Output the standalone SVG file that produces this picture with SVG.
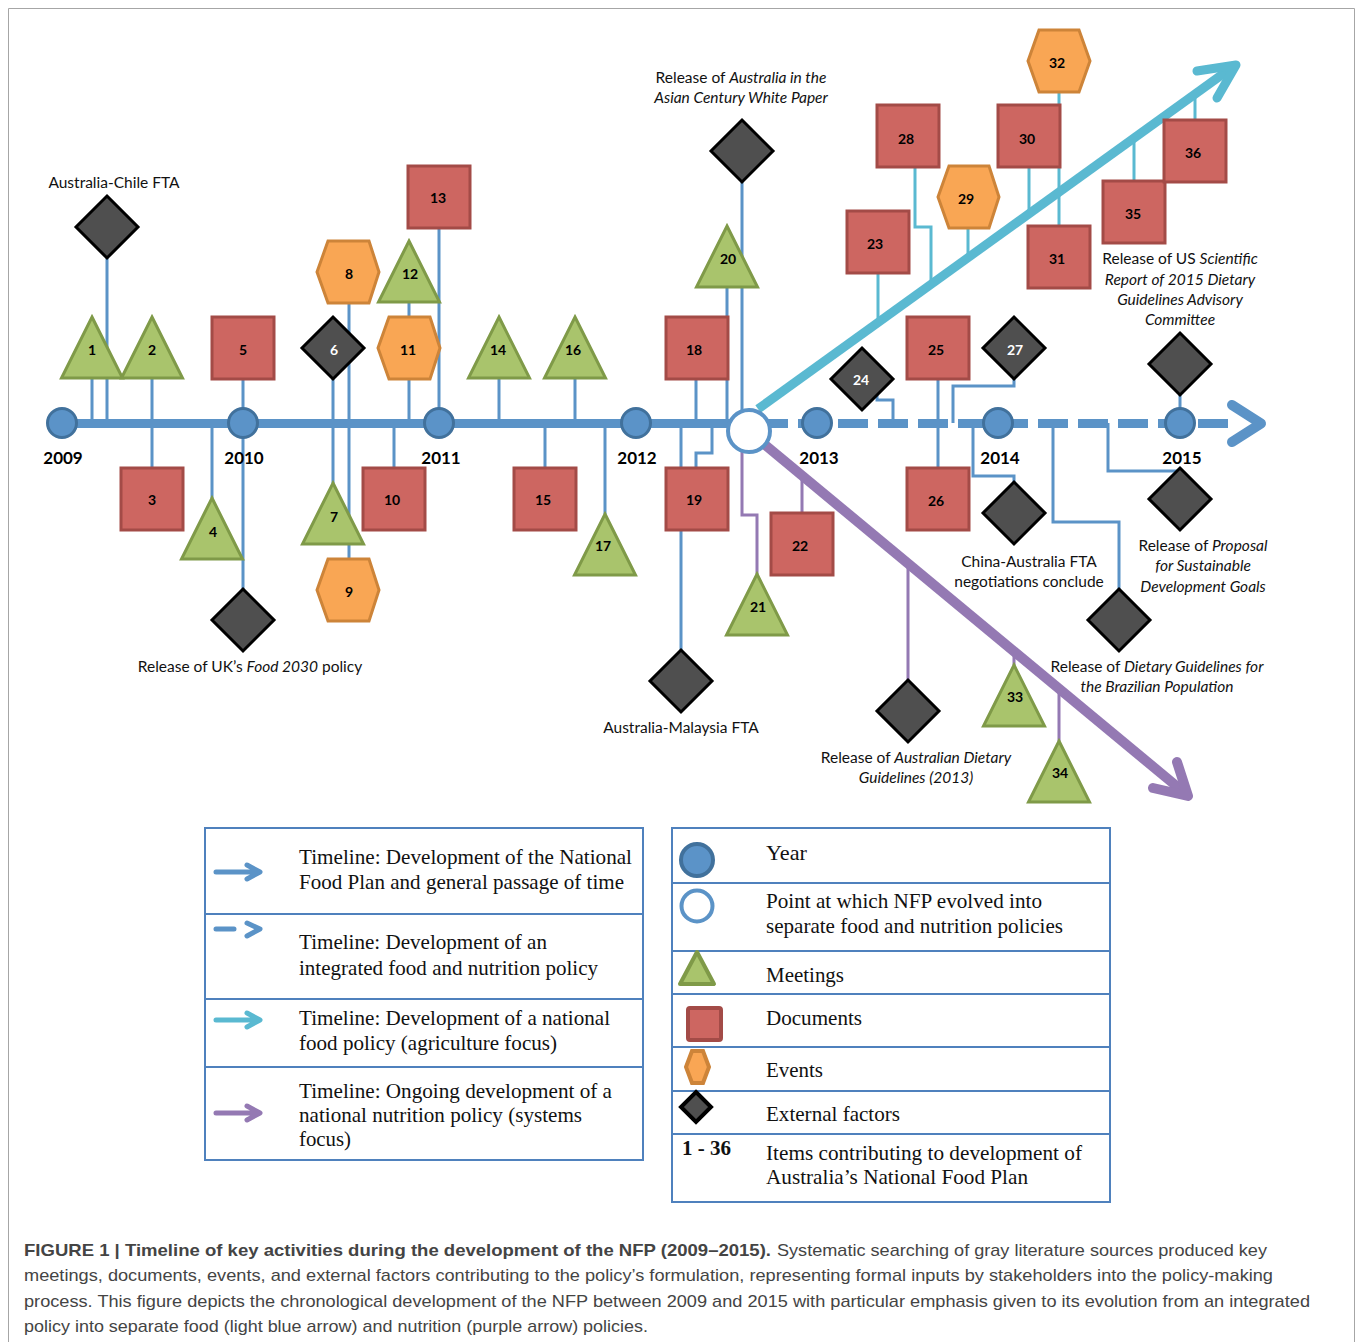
<svg xmlns="http://www.w3.org/2000/svg" width="1358" height="1342" viewBox="0 0 1358 1342">
<style>
.tri{fill:#a9c46c;stroke:#7f9a48;stroke-width:3;stroke-linejoin:miter}
.sq{fill:#cd6661;stroke:#a34b47;stroke-width:3}
.hex{fill:#f9a654;stroke:#cd8439;stroke-width:3}
.dia{fill:#4f4f4f;stroke:#000;stroke-width:3}
.yr{fill:#5b93c8;stroke:#41719c;stroke-width:3}
.num{font-family:Lato,"Open Sans",sans-serif;font-weight:bold;font-size:14px;text-anchor:middle;fill:#000}
.numw{fill:#fff}
.year{font-family:Lato,"Open Sans",sans-serif;font-weight:bold;font-size:17px;text-anchor:middle;fill:#000}
.ann{font-family:Lato,"Open Sans",sans-serif;font-size:15.5px;text-anchor:middle;fill:#111}
.it{font-style:italic}
.con{fill:none;stroke:#5b93c7;stroke-width:3}
.conl{fill:none;stroke:#5ab9d1;stroke-width:3}
.conp{fill:none;stroke:#9479b3;stroke-width:3}
.leg{font-family:"Liberation Serif","Times New Roman",serif;font-size:21px;fill:#111}
.legbox{fill:#fff;stroke:#4f81bd;stroke-width:2}
.cap{font-family:"Liberation Sans",Arial,sans-serif;font-size:17px;fill:#444}
</style>

<!-- frame -->
<path d="M8.5,1342 V8.5 H1354.5 V1342" fill="none" stroke="#a6a6a6" stroke-width="1"/>

<g id="connectors">
  <!-- blue connectors -->
  <path class="con" d="M92,378V423 M107,258V423 M152,378V468 M212,423V498 M243,379V589 M333,379V483 M349,303V558 M409,303V317 M409,379V423 M394,423V468 M439,228V423 M499,379V423 M545,423V468 M575,379V423 M605,423V514 M696,379V423 M681,423V650 M712,423V453H696V468 M727,287V423 M742,182V410"/>
  <path class="con" d="M877,394V400H893V423 M938,379V468 M1014,379V386H953V423 M973,423V476H1014V482 M1053,423V522H1119V589 M1108,423V471H1180V468 M1180,395V408"/>
  <!-- light blue connectors -->
  <path class="conl" d="M878,273V320 M915,167V227H931V284 M968,228V257 M1029,167V213 M1059,92V226 M1134,181V138 M1195,120V95"/>
  <!-- purple connectors -->
  <path class="conp" d="M742,451V515H757V574 M802,476V513 M908,564V680 M1014,652V665 M1059,689V741"/>

  <!-- main timeline (solid) -->
  <line x1="62" y1="423.5" x2="749" y2="423.5" stroke="#5b93c7" stroke-width="9"/>
  <!-- dashed timeline -->
  <line x1="758" y1="423.5" x2="1230" y2="423.5" stroke="#5b93c7" stroke-width="9" stroke-dasharray="30 10"/>
  <path d="M1232,405 L1261,423.5 L1232,442" fill="none" stroke="#5b93c7" stroke-width="10" stroke-linecap="round" stroke-linejoin="round"/>
  <!-- light blue arrow -->
  <line x1="758" y1="409" x2="1234" y2="66" stroke="#5ab9d1" stroke-width="9"/>
  <path d="M1197,71 L1236,65 L1217,98" fill="none" stroke="#5ab9d1" stroke-width="9" stroke-linecap="round" stroke-linejoin="round"/>
  <!-- purple arrow -->
  <line x1="764" y1="444" x2="1186" y2="794" stroke="#9479b3" stroke-width="10"/>
  <path d="M1177,762 L1188,796 L1153,788" fill="none" stroke="#9479b3" stroke-width="10" stroke-linecap="round" stroke-linejoin="round"/>
</g>

<!-- years -->
<g id="year-2009"><circle class="yr" cx="62" cy="423" r="14.5"/><text class="year" x="63" y="464">2009</text></g>
<g id="year-2010"><circle class="yr" cx="243" cy="423" r="14.5"/><text class="year" x="244" y="464">2010</text></g>
<g id="year-2011"><circle class="yr" cx="439" cy="423" r="14.5"/><text class="year" x="441" y="464">2011</text></g>
<g id="year-2012"><circle class="yr" cx="636" cy="423" r="14.5"/><text class="year" x="637" y="464">2012</text></g>
<g id="year-2013"><circle class="yr" cx="817" cy="423" r="14.5"/><text class="year" x="819" y="464">2013</text></g>
<g id="year-2014"><circle class="yr" cx="998" cy="423" r="14.5"/><text class="year" x="1000" y="464">2014</text></g>
<g id="year-2015"><circle class="yr" cx="1180" cy="423" r="14.5"/><text class="year" x="1182" y="464">2015</text></g>
<g id="split-point"><circle cx="749" cy="431" r="21" fill="#fff" stroke="#5b93c7" stroke-width="4"/></g>

<!-- triangles (meetings) -->
<g id="n1"><path class="tri" d="M92,317 L122.5,378 L61.5,378Z"/><text class="num" x="92" y="355">1</text></g>
<g id="n2"><path class="tri" d="M152,317 L182.5,378 L121.5,378Z"/><text class="num" x="152" y="355">2</text></g>
<g id="n4"><path class="tri" d="M212,498 L242.5,559 L181.5,559Z"/><text class="num" x="213" y="537">4</text></g>
<g id="n7"><path class="tri" d="M333,483 L363.5,544 L302.5,544Z"/><text class="num" x="334" y="522">7</text></g>
<g id="n12"><path class="tri" d="M409,241 L439.5,302 L378.5,302Z"/><text class="num" x="410" y="279">12</text></g>
<g id="n14"><path class="tri" d="M499,317 L529.5,378 L468.5,378Z"/><text class="num" x="498" y="355">14</text></g>
<g id="n16"><path class="tri" d="M575,317 L605.5,378 L544.5,378Z"/><text class="num" x="573" y="355">16</text></g>
<g id="n17"><path class="tri" d="M605,514 L635.5,575 L574.5,575Z"/><text class="num" x="603" y="551">17</text></g>
<g id="n20"><path class="tri" d="M727,226 L757.5,287 L696.5,287Z"/><text class="num" x="728" y="264">20</text></g>
<g id="n21"><path class="tri" d="M757,574 L787.5,635 L726.5,635Z"/><text class="num" x="758" y="612">21</text></g>
<g id="n33"><path class="tri" d="M1014,665 L1044.5,726 L983.5,726Z"/><text class="num" x="1015" y="702">33</text></g>
<g id="n34"><path class="tri" d="M1059,741 L1089.5,802 L1028.5,802Z"/><text class="num" x="1060" y="778">34</text></g>

<!-- squares (documents) -->
<g id="n3"><rect class="sq" x="121" y="468" width="62" height="62"/><text class="num" x="152" y="505">3</text></g>
<g id="n5"><rect class="sq" x="212" y="317" width="62" height="62"/><text class="num" x="243" y="355">5</text></g>
<g id="n10"><rect class="sq" x="363" y="468" width="62" height="62"/><text class="num" x="392" y="505">10</text></g>
<g id="n13"><rect class="sq" x="408" y="166" width="62" height="62"/><text class="num" x="438" y="203">13</text></g>
<g id="n15"><rect class="sq" x="514" y="468" width="62" height="62"/><text class="num" x="543" y="505">15</text></g>
<g id="n18"><rect class="sq" x="666" y="317" width="62" height="62"/><text class="num" x="694" y="355">18</text></g>
<g id="n19"><rect class="sq" x="666" y="468" width="62" height="62"/><text class="num" x="694" y="505">19</text></g>
<g id="n22"><rect class="sq" x="771" y="513" width="62" height="62"/><text class="num" x="800" y="551">22</text></g>
<g id="n23"><rect class="sq" x="847" y="211" width="62" height="62"/><text class="num" x="875" y="249">23</text></g>
<g id="n25"><rect class="sq" x="907" y="317" width="62" height="62"/><text class="num" x="936" y="355">25</text></g>
<g id="n26"><rect class="sq" x="907" y="468" width="62" height="62"/><text class="num" x="936" y="506">26</text></g>
<g id="n28"><rect class="sq" x="877" y="105" width="62" height="62"/><text class="num" x="906" y="144">28</text></g>
<g id="n30"><rect class="sq" x="998" y="105" width="62" height="62"/><text class="num" x="1027" y="144">30</text></g>
<g id="n31"><rect class="sq" x="1028" y="226" width="62" height="62"/><text class="num" x="1057" y="264">31</text></g>
<g id="n35"><rect class="sq" x="1103" y="181" width="62" height="62"/><text class="num" x="1133" y="219">35</text></g>
<g id="n36"><rect class="sq" x="1164" y="120" width="62" height="62"/><text class="num" x="1193" y="158">36</text></g>

<!-- hexagons (events) -->
<g id="n8"><path class="hex" d="M317,272 L328,241 L369,241 L379,272 L369,303 L328,303Z"/><text class="num" x="349" y="279">8</text></g>
<g id="n9"><path class="hex" d="M317,590 L328,559 L369,559 L379,590 L369,621 L328,621Z"/><text class="num" x="349" y="597">9</text></g>
<g id="n11"><path class="hex" d="M378,348 L389,317 L430,317 L440,348 L430,379 L389,379Z"/><text class="num" x="408" y="355">11</text></g>
<g id="n29"><path class="hex" d="M938,197 L949,166 L989,166 L999,197 L989,228 L949,228Z"/><text class="num" x="966" y="204">29</text></g>
<g id="n32"><path class="hex" d="M1028,61 L1039,30 L1079,30 L1090,61 L1079,92 L1039,92Z"/><text class="num" x="1057" y="68">32</text></g>

<!-- diamonds (external factors) -->
<g id="ext-chile"><path class="dia" d="M107,196 L138,227 L107,258 L76,227Z"/><text class="ann" x="114" y="188">Australia-Chile FTA</text></g>
<g id="n6"><path class="dia" d="M333,317 L364,348 L333,379 L302,348Z"/><text class="num numw" x="334" y="355">6</text></g>
<g id="ext-uk"><path class="dia" d="M243,589 L274,620 L243,651 L212,620Z"/><text class="ann" x="250" y="672">Release of UK’s <tspan class="it">Food 2030</tspan> policy</text></g>
<g id="ext-asian"><path class="dia" d="M742,120 L773,151 L742,182 L711,151Z"/><text class="ann" x="741" y="83">Release of <tspan class="it">Australia in the</tspan></text><text class="ann it" x="741" y="103">Asian Century White Paper</text></g>
<g id="ext-malaysia"><path class="dia" d="M681,650 L712,681 L681,712 L650,681Z"/><text class="ann" x="681" y="733">Australia-Malaysia FTA</text></g>
<g id="n24"><path class="dia" d="M862,348 L893,379 L862,410 L831,379Z"/><text class="num numw" x="861" y="385">24</text></g>
<g id="n27"><path class="dia" d="M1014,317 L1045,348 L1014,379 L983,348Z"/><text class="num numw" x="1015" y="355">27</text></g>
<g id="ext-us"><path class="dia" d="M1180,333 L1211,364 L1180,395 L1149,364Z"/><text class="ann" x="1180" y="264">Release of US <tspan class="it">Scientific</tspan></text><text class="ann it" x="1180" y="285">Report of 2015 Dietary</text><text class="ann it" x="1180" y="305">Guidelines Advisory</text><text class="ann it" x="1180" y="325">Committee</text></g>
<g id="ext-china"><path class="dia" d="M1014,482 L1045,513 L1014,544 L983,513Z"/><text class="ann" x="1029" y="567">China-Australia FTA</text><text class="ann" x="1029" y="587">negotiations conclude</text></g>
<g id="ext-sdg"><path class="dia" d="M1180,468 L1211,499 L1180,530 L1149,499Z"/><text class="ann" x="1203" y="551">Release of <tspan class="it">Proposal</tspan></text><text class="ann it" x="1203" y="571">for Sustainable</text><text class="ann it" x="1203" y="592">Development Goals</text></g>
<g id="ext-brazil"><path class="dia" d="M1119,589 L1150,620 L1119,651 L1088,620Z"/><text class="ann" x="1157" y="672">Release of <tspan class="it">Dietary Guidelines for</tspan></text><text class="ann it" x="1157" y="692">the Brazilian Population</text></g>
<g id="ext-ausdiet"><path class="dia" d="M908,680 L939,711 L908,742 L877,711Z"/><text class="ann" x="916" y="763">Release of <tspan class="it">Australian Dietary</tspan></text><text class="ann it" x="916" y="783">Guidelines (2013)</text></g>

<!-- left legend -->
<g id="legend-lines">
  <rect class="legbox" x="205" y="828" width="438" height="332"/>
  <path d="M205,914H643 M205,999H643 M205,1067H643" stroke="#4f81bd" stroke-width="2"/>
  <g fill="none" stroke-width="5" stroke-linecap="round" stroke-linejoin="round">
    <path d="M216,872H257 M247,865L260,872L247,879" stroke="#5b93c7"/>
    <path d="M216,929H234 M247,923L260,929L247,936" stroke="#5b93c7"/>
    <path d="M216,1020H257 M247,1013L260,1020L247,1027" stroke="#5ab9d1"/>
    <path d="M216,1113H257 M247,1106L260,1113L247,1120" stroke="#9479b3"/>
  </g>
  <text class="leg" x="299" y="864" textLength="333" lengthAdjust="spacingAndGlyphs">Timeline: Development of the National</text>
  <text class="leg" x="299" y="889" textLength="325" lengthAdjust="spacingAndGlyphs">Food Plan and general passage of time</text>
  <text class="leg" x="299" y="949" textLength="248" lengthAdjust="spacingAndGlyphs">Timeline: Development of an</text>
  <text class="leg" x="299" y="975" textLength="299" lengthAdjust="spacingAndGlyphs">integrated food and nutrition policy</text>
  <text class="leg" x="299" y="1025" textLength="311" lengthAdjust="spacingAndGlyphs">Timeline: Development of a national</text>
  <text class="leg" x="299" y="1050" textLength="258" lengthAdjust="spacingAndGlyphs">food policy (agriculture focus)</text>
  <text class="leg" x="299" y="1098" textLength="313" lengthAdjust="spacingAndGlyphs">Timeline: Ongoing development of a</text>
  <text class="leg" x="299" y="1122" textLength="283" lengthAdjust="spacingAndGlyphs">national nutrition policy (systems</text>
  <text class="leg" x="299" y="1146" textLength="52" lengthAdjust="spacingAndGlyphs">focus)</text>
</g>

<!-- right legend -->
<g id="legend-symbols">
  <rect class="legbox" x="672" y="828" width="438" height="374"/>
  <path d="M672,883H1110 M672,951H1110 M672,994H1110 M672,1047H1110 M672,1091H1110 M672,1134H1110" stroke="#4f81bd" stroke-width="2"/>
  <circle cx="697" cy="860" r="16" fill="#5b93c8" stroke="#41719c" stroke-width="4"/>
  <circle cx="697" cy="906" r="15.5" fill="#fff" stroke="#5b93c7" stroke-width="4"/>
  <path d="M697,952 L714,984 L680,984Z" fill="#a9c46c" stroke="#7f9a48" stroke-width="4" stroke-linejoin="round"/>
  <rect x="688" y="1008" width="33" height="32" rx="2" fill="#cd6661" stroke="#a34b47" stroke-width="4"/>
  <path d="M686,1067 L692,1051 L703,1051 L709,1067 L703,1083 L692,1083Z" fill="#f9a654" stroke="#cd8439" stroke-width="4"/>
  <path d="M696,1092 L711,1107 L696,1122 L681,1107Z" fill="#4f4f4f" stroke="#000" stroke-width="4"/>
  <text class="leg" x="766" y="860" textLength="41" lengthAdjust="spacingAndGlyphs">Year</text>
  <text class="leg" x="766" y="908" textLength="276" lengthAdjust="spacingAndGlyphs">Point at which NFP evolved into</text>
  <text class="leg" x="766" y="933" textLength="297" lengthAdjust="spacingAndGlyphs">separate food and nutrition policies</text>
  <text class="leg" x="766" y="982" textLength="78" lengthAdjust="spacingAndGlyphs">Meetings</text>
  <text class="leg" x="766" y="1025" textLength="96" lengthAdjust="spacingAndGlyphs">Documents</text>
  <text class="leg" x="766" y="1077" textLength="57" lengthAdjust="spacingAndGlyphs">Events</text>
  <text class="leg" x="766" y="1121" textLength="134" lengthAdjust="spacingAndGlyphs">External factors</text>
  <text class="leg" x="682" y="1155" font-weight="bold" textLength="49" lengthAdjust="spacingAndGlyphs">1 - 36</text>
  <text class="leg" x="766" y="1160" textLength="316" lengthAdjust="spacingAndGlyphs">Items contributing to development of</text>
  <text class="leg" x="766" y="1184" textLength="262" lengthAdjust="spacingAndGlyphs">Australia’s National Food Plan</text>
</g>

<!-- caption -->
<g id="caption">
  <text class="cap" x="24" y="1256" font-weight="bold" fill="#111" textLength="747" lengthAdjust="spacingAndGlyphs">FIGURE 1 | Timeline of key activities during the development of the NFP (2009–2015).</text>
  <text class="cap" x="777" y="1256" textLength="490" lengthAdjust="spacingAndGlyphs">Systematic searching of gray literature sources produced key</text>
  <text class="cap" x="24" y="1281" textLength="1249" lengthAdjust="spacingAndGlyphs">meetings, documents, events, and external factors contributing to the policy’s formulation, representing formal inputs by stakeholders into the policy-making</text>
  <text class="cap" x="24" y="1307" textLength="1286" lengthAdjust="spacingAndGlyphs">process. This figure depicts the chronological development of the NFP between 2009 and 2015 with particular emphasis given to its evolution from an integrated</text>
  <text class="cap" x="24" y="1332" textLength="624" lengthAdjust="spacingAndGlyphs">policy into separate food (light blue arrow) and nutrition (purple arrow) policies.</text>
</g>
</svg>
